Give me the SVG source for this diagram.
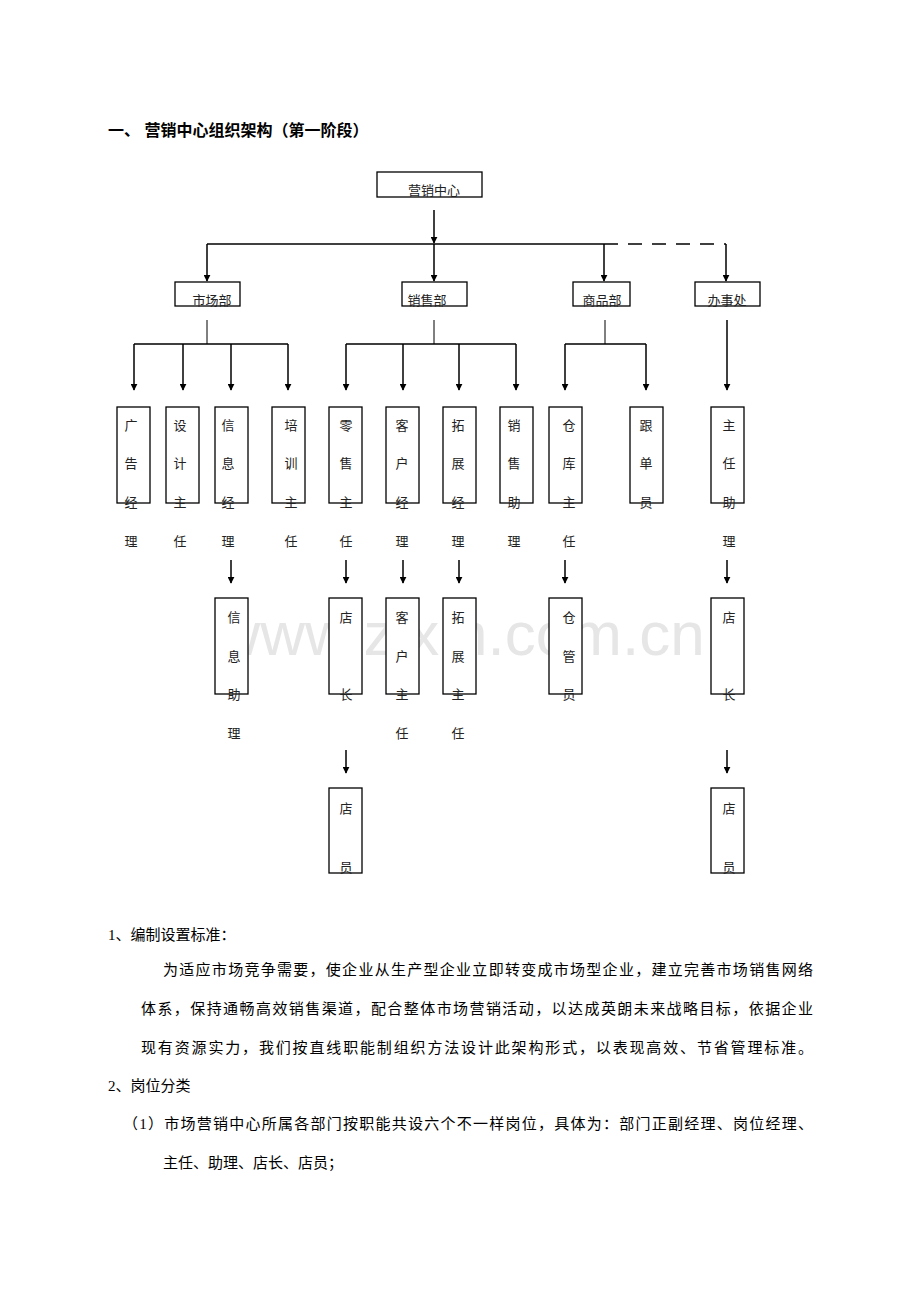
<svg xmlns="http://www.w3.org/2000/svg" width="920" height="1302" viewBox="0 0 920 1302">
<style>
.b{fill:#fff;stroke:#000;stroke-width:1.3}
.t{font-family:"Liberation Serif","Noto Sans CJK SC",serif;font-size:13px;fill:#222;text-anchor:middle}
.p{font-family:"Liberation Serif","Noto Sans CJK SC",serif;font-size:15px;fill:#000}
.l{stroke:#000;stroke-width:1.5;fill:none}
.th{stroke:#000;stroke-width:1;fill:none}
</style>
<defs><marker id="a" viewBox="0 0 10 10" refX="9" refY="5" markerWidth="7" markerHeight="7" markerUnits="userSpaceOnUse" orient="auto"><path d="M0,0L10,5L0,10z" fill="#000"/></marker></defs>
<rect width="920" height="1302" fill="#fff"/>
<text x="108" y="136" font-family="Liberation Sans,Noto Sans CJK SC,sans-serif" font-size="16" font-weight="bold">一、 营销中心组织架构（第一阶段）</text>
<text x="460" y="655" font-family="Liberation Sans,sans-serif" font-size="62" fill="#e6e6e6" text-anchor="middle">www.zixin.com.cn</text>
<g id="connectors">
<path class="l" d="M434,210V243" marker-end="url(#a)"/>
<path class="l" d="M207,244H604"/>
<path class="l" d="M604,244H726" stroke-dasharray="14,10"/>
<path class="l" d="M207,244V281" marker-end="url(#a)"/>
<path class="l" d="M434,244V281" marker-end="url(#a)"/>
<path class="l" d="M604,244V281" marker-end="url(#a)"/>
<path class="l" d="M726,244V281" marker-end="url(#a)"/>
<path class="th" d="M207,320V344M434,320V344M605,320V344"/>
<path class="l" d="M134,344H288M346,344H516M565,344H646"/>
<g class="l" marker-end="url(#a)">
<path d="M134,344V390" marker-end="url(#a)"/><path d="M183,344V390" marker-end="url(#a)"/><path d="M231,344V390" marker-end="url(#a)"/><path d="M288,344V390" marker-end="url(#a)"/>
<path d="M346,344V390" marker-end="url(#a)"/><path d="M403,344V390" marker-end="url(#a)"/><path d="M459,344V390" marker-end="url(#a)"/><path d="M516,344V390" marker-end="url(#a)"/>
<path d="M565,344V390" marker-end="url(#a)"/><path d="M646,344V390" marker-end="url(#a)"/>
<path d="M727,320V390" marker-end="url(#a)"/>
<path d="M231,560V583" marker-end="url(#a)"/><path d="M346,560V583" marker-end="url(#a)"/><path d="M403,560V583" marker-end="url(#a)"/><path d="M459,560V583" marker-end="url(#a)"/><path d="M565,560V583" marker-end="url(#a)"/><path d="M727,560V583" marker-end="url(#a)"/>
<path d="M346,750V773" marker-end="url(#a)"/><path d="M727,750V773" marker-end="url(#a)"/>
</g>
</g>
<g id="top"><rect class="b" x="377" y="172" width="105" height="25"/><text class="t" x="434" y="195" font-size="15">营销中心</text></g>
<g id="d1"><rect class="b" x="175" y="282" width="65" height="24"/><text class="t" x="212" y="305">市场部</text></g>
<g id="d2"><rect class="b" x="402" y="282" width="65" height="24"/><text class="t" x="427" y="305">销售部</text></g>
<g id="d3"><rect class="b" x="573" y="282" width="57" height="24"/><text class="t" x="602" y="305">商品部</text></g>
<g id="d4"><rect class="b" x="695" y="282" width="65" height="24"/><text class="t" x="727" y="305">办事处</text></g>
<g id="n1"><rect class="b" x="117" y="407" width="33" height="96"/><text class="t" x="131" y="430">广</text><text class="t" x="131" y="468">告</text><text class="t" x="131" y="507">经</text><text class="t" x="131" y="546">理</text></g>
<g id="n2"><rect class="b" x="166" y="407" width="33" height="96"/><text class="t" x="180" y="430">设</text><text class="t" x="180" y="468">计</text><text class="t" x="180" y="507">主</text><text class="t" x="180" y="546">任</text></g>
<g id="n3"><rect class="b" x="215" y="407" width="33" height="96"/><text class="t" x="228" y="430">信</text><text class="t" x="228" y="468">息</text><text class="t" x="228" y="507">经</text><text class="t" x="228" y="546">理</text></g>
<g id="n4"><rect class="b" x="272" y="407" width="33" height="96"/><text class="t" x="291" y="430">培</text><text class="t" x="291" y="468">训</text><text class="t" x="291" y="507">主</text><text class="t" x="291" y="546">任</text></g>
<g id="n5"><rect class="b" x="329" y="407" width="33" height="96"/><text class="t" x="346" y="430">零</text><text class="t" x="346" y="468">售</text><text class="t" x="346" y="507">主</text><text class="t" x="346" y="546">任</text></g>
<g id="n6"><rect class="b" x="386" y="407" width="33" height="96"/><text class="t" x="402" y="430">客</text><text class="t" x="402" y="468">户</text><text class="t" x="402" y="507">经</text><text class="t" x="402" y="546">理</text></g>
<g id="n7"><rect class="b" x="443" y="407" width="33" height="96"/><text class="t" x="458" y="430">拓</text><text class="t" x="458" y="468">展</text><text class="t" x="458" y="507">经</text><text class="t" x="458" y="546">理</text></g>
<g id="n8"><rect class="b" x="500" y="407" width="33" height="96"/><text class="t" x="514" y="430">销</text><text class="t" x="514" y="468">售</text><text class="t" x="514" y="507">助</text><text class="t" x="514" y="546">理</text></g>
<g id="n9"><rect class="b" x="549" y="407" width="33" height="96"/><text class="t" x="569" y="430">仓</text><text class="t" x="569" y="468">库</text><text class="t" x="569" y="507">主</text><text class="t" x="569" y="546">任</text></g>
<g id="n10"><rect class="b" x="630" y="407" width="33" height="96"/><text class="t" x="646" y="430">跟</text><text class="t" x="646" y="468">单</text><text class="t" x="646" y="507">员</text></g>
<g id="n11"><rect class="b" x="711" y="407" width="33" height="96"/><text class="t" x="729" y="430">主</text><text class="t" x="729" y="468">任</text><text class="t" x="729" y="507">助</text><text class="t" x="729" y="546">理</text></g>
<g id="m1"><rect class="b" x="215" y="598" width="33" height="96"/><text class="t" x="234" y="622">信</text><text class="t" x="234" y="661">息</text><text class="t" x="234" y="699">助</text><text class="t" x="234" y="738">理</text></g>
<g id="m2"><rect class="b" x="329" y="598" width="33" height="96"/><text class="t" x="346" y="622">店</text><text class="t" x="346" y="699">长</text></g>
<g id="m3"><rect class="b" x="386" y="598" width="33" height="96"/><text class="t" x="402" y="622">客</text><text class="t" x="402" y="661">户</text><text class="t" x="402" y="699">主</text><text class="t" x="402" y="738">任</text></g>
<g id="m4"><rect class="b" x="443" y="598" width="33" height="96"/><text class="t" x="458" y="622">拓</text><text class="t" x="458" y="661">展</text><text class="t" x="458" y="699">主</text><text class="t" x="458" y="738">任</text></g>
<g id="m5"><rect class="b" x="549" y="598" width="33" height="96"/><text class="t" x="569" y="622">仓</text><text class="t" x="569" y="661">管</text><text class="t" x="569" y="699">员</text></g>
<g id="m6"><rect class="b" x="711" y="598" width="33" height="96"/><text class="t" x="729" y="622">店</text><text class="t" x="729" y="699">长</text></g>
<g id="s1"><rect class="b" x="329" y="788" width="33" height="85"/><text class="t" x="346" y="813">店</text><text class="t" x="346" y="872">员</text></g>
<g id="s2"><rect class="b" x="711" y="788" width="33" height="85"/><text class="t" x="729" y="813">店</text><text class="t" x="729" y="872">员</text></g>
<text class="p" x="108" y="940">1、编制设置标准：</text>
<text class="p" x="163" y="975" textLength="650" lengthAdjust="spacing">为适应市场竞争需要，使企业从生产型企业立即转变成市场型企业，建立完善市场销售网络</text>
<text class="p" x="141" y="1014" textLength="672" lengthAdjust="spacing">体系，保持通畅高效销售渠道，配合整体市场营销活动，以达成英朗未来战略目标，依据企业</text>
<text class="p" x="141" y="1053" textLength="672" lengthAdjust="spacing">现有资源实力，我们按直线职能制组织方法设计此架构形式，以表现高效、节省管理标准。</text>
<text class="p" x="108" y="1091">2、岗位分类</text>
<text class="p" x="123" y="1129" textLength="690" lengthAdjust="spacing">（1）市场营销中心所属各部门按职能共设六个不一样岗位，具体为：部门正副经理、岗位经理、</text>
<text class="p" x="163" y="1168">主任、助理、店长、店员；</text>
</svg>
